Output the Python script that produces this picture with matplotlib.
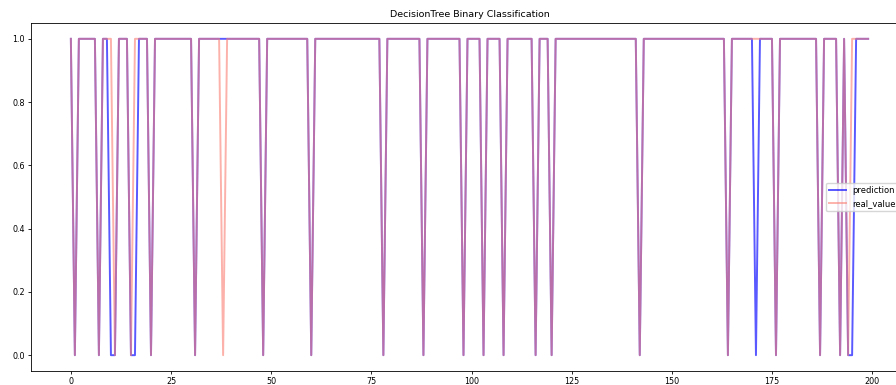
import matplotlib
matplotlib.use("Agg")
import matplotlib.pyplot as plt

# sample index 0..199 with binary values
real_values = [
    1, 0, 1, 1, 1, 1, 1, 0, 1, 1, 1, 0, 1, 1, 1, 0, 1, 1, 1, 1,
    0, 1, 1, 1, 1, 1, 1, 1, 1, 1, 1, 0, 1, 1, 1, 1, 1, 1, 0, 1,
    1, 1, 1, 1, 1, 1, 1, 1, 0, 1, 1, 1, 1, 1, 1, 1, 1, 1, 1, 1,
    0, 1, 1, 1, 1, 1, 1, 1, 1, 1, 1, 1, 1, 1, 1, 1, 1, 1, 0, 1,
    1, 1, 1, 1, 1, 1, 1, 1, 0, 1, 1, 1, 1, 1, 1, 1, 1, 1, 0, 1,
    1, 1, 1, 0, 1, 1, 1, 1, 0, 1, 1, 1, 1, 1, 1, 1, 0, 1, 1, 1,
    0, 1, 1, 1, 1, 1, 1, 1, 1, 1, 1, 1, 1, 1, 1, 1, 1, 1, 1, 1,
    1, 1, 0, 1, 1, 1, 1, 1, 1, 1, 1, 1, 1, 1, 1, 1, 1, 1, 1, 1,
    1, 1, 1, 1, 0, 1, 1, 1, 1, 1, 1, 1, 1, 1, 1, 1, 0, 1, 1, 1,
    1, 1, 1, 1, 1, 1, 1, 0, 1, 1, 1, 1, 0, 1, 0, 1, 1, 1, 1, 1,
]

prediction = [
    1, 0, 1, 1, 1, 1, 1, 0, 1, 1, 0, 0, 1, 1, 1, 0, 0, 1, 1, 1,
    0, 1, 1, 1, 1, 1, 1, 1, 1, 1, 1, 0, 1, 1, 1, 1, 1, 1, 1, 1,
    1, 1, 1, 1, 1, 1, 1, 1, 0, 1, 1, 1, 1, 1, 1, 1, 1, 1, 1, 1,
    0, 1, 1, 1, 1, 1, 1, 1, 1, 1, 1, 1, 1, 1, 1, 1, 1, 1, 0, 1,
    1, 1, 1, 1, 1, 1, 1, 1, 0, 1, 1, 1, 1, 1, 1, 1, 1, 1, 0, 1,
    1, 1, 1, 0, 1, 1, 1, 1, 0, 1, 1, 1, 1, 1, 1, 1, 0, 1, 1, 1,
    0, 1, 1, 1, 1, 1, 1, 1, 1, 1, 1, 1, 1, 1, 1, 1, 1, 1, 1, 1,
    1, 1, 0, 1, 1, 1, 1, 1, 1, 1, 1, 1, 1, 1, 1, 1, 1, 1, 1, 1,
    1, 1, 1, 1, 0, 1, 1, 1, 1, 1, 1, 0, 1, 1, 1, 1, 0, 1, 1, 1,
    1, 1, 1, 1, 1, 1, 1, 0, 1, 1, 1, 1, 0, 1, 0, 0, 1, 1, 1, 1,
]

plt.rcParams.update({'font.size': 6})


def main():
    fig = plt.figure(figsize=(8.96, 3.85), dpi=100)
    # axes runs a little past the right edge, like the cropped original
    ax = fig.add_axes([31/896, 14/385, 877/896, 348/385])

    ax.plot(prediction, color='blue', alpha=0.65, linewidth=1.4, label='prediction')
    ax.plot(real_values, color='salmon', alpha=0.6, linewidth=1.4, label='real_values')

    ax.set_title('DecisionTree Binary Classification', fontsize=6.8, pad=4)
    ax.tick_params(labelsize=5.8, length=2.5, width=0.6, pad=2)
    for s in ax.spines.values():
        s.set_linewidth(0.6)

    ax.legend(loc='center right', fontsize=6, handlelength=2)

    fig.savefig('out.png', dpi=100)


if __name__ == '__main__':
    main()
